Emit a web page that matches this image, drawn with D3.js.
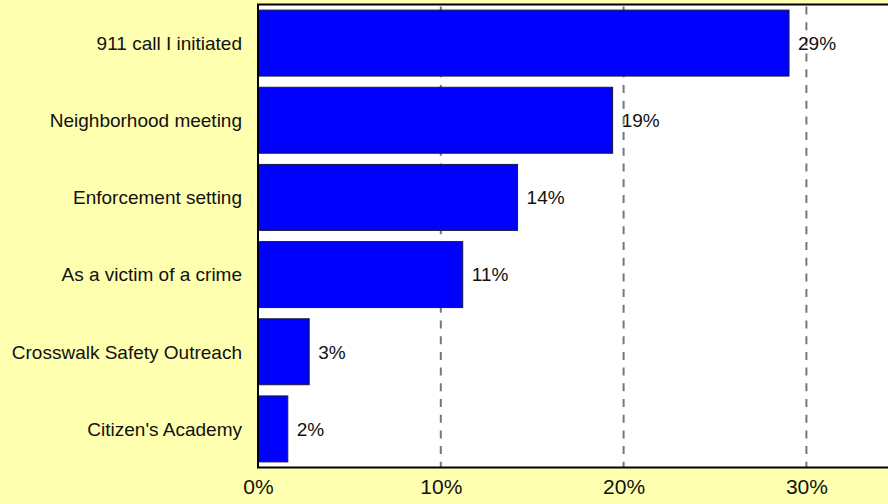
<!DOCTYPE html>
<html>
<head>
<meta charset="utf-8">
<script src="https://cdn.jsdelivr.net/npm/d3@7/dist/d3.min.js"></script>
<style>
  html, body { margin: 0; padding: 0; background: #FFFFB0; }
  svg { display: block; }
  text { font-family: "Liberation Sans", Arial, sans-serif; fill: #111; }
</style>
</head>
<body>
<svg id="chart" width="888" height="504"></svg>
<script>
// Ways respondents have had contact with the police
const categories = [
  "911 call I initiated",
  "Neighborhood meeting",
  "Enforcement setting",
  "As a victim of a crime",
  "Crosswalk Safety Outreach",
  "Citizen's Academy"
];
const shares = [0.2905, 0.194, 0.142, 0.112, 0.028, 0.0163];
const tickValues = [0, 0.1, 0.2, 0.3];

const svg = d3.select("#chart");
const W = 888, H = 504;
const plot = { left: 258, top: 4.5, bottom: 467.5 };

const x = d3.scaleLinear().domain([0, 0.35]).range([plot.left, plot.left + 1828 * 0.35]);
const y = d3.scaleBand()
  .domain(categories)
  .range([plot.top, plot.bottom])
  .paddingInner(0.145)
  .paddingOuter(0.0725);

const pct = d3.format(".0%");

// plot background
svg.append("rect")
  .attr("x", x(0)).attr("y", plot.top)
  .attr("width", x.range()[1] - x(0)).attr("height", plot.bottom - plot.top)
  .attr("fill", "#fff");

// dashed vertical gridlines
svg.append("g").selectAll("line")
  .data(tickValues.filter(d => d > 0))
  .join("line")
  .attr("x1", d => x(d)).attr("x2", d => x(d))
  .attr("y1", plot.top).attr("y2", plot.bottom)
  .attr("stroke", "#777")
  .attr("stroke-width", 2)
  .attr("stroke-dasharray", "8,7.7")
  .attr("stroke-dashoffset", -2);

// bars
svg.append("g").selectAll("rect")
  .data(categories.map((c, i) => ({ c, v: shares[i] })))
  .join("rect")
  .attr("x", x(0))
  .attr("y", d => y(d.c))
  .attr("width", d => x(d.v) - x(0))
  .attr("height", y.bandwidth())
  .attr("fill", "#0000FF")
  .attr("stroke", "#1a1a40")
  .attr("stroke-width", 1);

// value labels
svg.append("g").selectAll("text")
  .data(categories.map((c, i) => ({ c, v: shares[i] })))
  .join("text")
  .attr("x", d => x(d.v) + 9)
  .attr("y", d => y(d.c) + y.bandwidth() / 2)
  .attr("dy", "0.36em")
  .style("font-size", "19px")
  .text(d => pct(d.v));

// frame: top border, left and bottom axes
svg.append("rect")
  .attr("x", x(0)).attr("y", plot.top)
  .attr("width", x.range()[1] - x(0)).attr("height", plot.bottom - plot.top)
  .attr("fill", "none")
  .attr("stroke", "#000")
  .attr("stroke-width", 2);

// category axis
const yAxis = svg.append("g")
  .attr("transform", `translate(${x(0)},0)`)
  .call(d3.axisLeft(y).tickSize(0).tickPadding(16));
yAxis.select(".domain").remove();
yAxis.selectAll("text")
  .style("font-size", "19px")
  .attr("fill", "#111")
  .attr("dy", "0.36em");

// percentage axis
const xAxis = svg.append("g")
  .attr("transform", `translate(0,${plot.bottom})`)
  .call(d3.axisBottom(x).tickValues(tickValues).tickFormat(pct).tickSize(0).tickPadding(12));
xAxis.select(".domain").remove();
xAxis.selectAll("text")
  .style("font-size", "21px")
  .attr("fill", "#111")
  .attr("dy", "0.71em");
</script>
</body>
</html>
